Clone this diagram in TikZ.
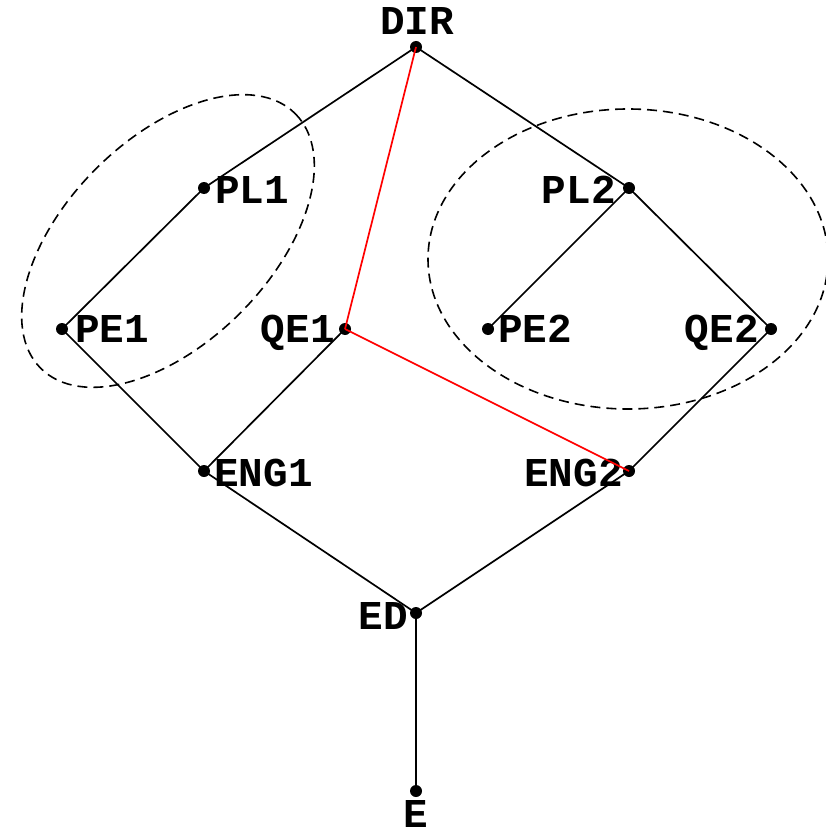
\documentclass[tikz,border=0pt]{standalone}
\usepackage{fontspec}
\setmainfont{Liberation Mono}
\usetikzlibrary{calc}
\tikzset{
  dot/.style={circle,fill=black,inner sep=0pt,minimum size=12pt},
  lbl/.style={inner sep=0pt,font=\fontsize{41}{41}\selectfont\bfseries},
  edge/.style={line width=1.7pt,black},
  rededge/.style={line width=1.7pt,red},
  grp/.style={line width=1.6pt,dash pattern=on 10pt off 6pt}
}
\begin{document}
\begin{tikzpicture}[x=1pt,y=-1pt]
\useasboundingbox (0,0) rectangle (825,832);
\draw[grp] (168,241) ellipse[x radius=180,y radius=102,rotate=45];
\draw[grp] (628,259) ellipse[x radius=200,y radius=150];
\node[dot] (DIR) at (416,47) {};
\node[dot] (PL1) at (204,188) {};
\node[dot] (PE1) at (62,329) {};
\node[dot] (QE1) at (345,329) {};
\node[dot] (PL2) at (629,188) {};
\node[dot] (PE2) at (488,329) {};
\node[dot] (QE2) at (771,329) {};
\node[dot] (ENG1) at (204,471) {};
\node[dot] (ENG2) at (629,471) {};
\node[dot] (ED) at (416,613) {};
\node[dot] (E) at (416,791) {};
\draw[edge] (DIR.center) -- (PL1.center);
\draw[edge] (DIR.center) -- (PL2.center);
\draw[edge] (PL1.center) -- (PE1.center);
\draw[edge] (PE1.center) -- (ENG1.center);
\draw[edge] (QE1.center) -- (ENG1.center);
\draw[edge] (PL2.center) -- (PE2.center);
\draw[edge] (PL2.center) -- (QE2.center);
\draw[edge] (QE2.center) -- (ENG2.center);
\draw[edge] (ENG1.center) -- (ED.center);
\draw[edge] (ENG2.center) -- (ED.center);
\draw[edge] (ED.center) -- (E.center);
\node[lbl,anchor=base] (DIRl) at ($(DIR)+(1,-12)$) {DIR};
\node[lbl,anchor=base west] (PL1l) at ($(PL1)+(11,15)$) {PL1};
\node[lbl,anchor=base west] (PE1l) at ($(PE1)+(13,13)$) {PE1};
\node[lbl,anchor=base east] (QE1l) at ($(QE1)+(-10,13)$) {QE1};
\node[lbl,anchor=base east] (PL2l) at ($(PL2)+(-13,15)$) {PL2};
\node[lbl,anchor=base west] (PE2l) at ($(PE2)+(10,13)$) {PE2};
\node[lbl,anchor=base east] (QE2l) at ($(QE2)+(-12,13)$) {QE2};
\node[lbl,anchor=base west] (ENG1l) at ($(ENG1)+(10,15)$) {ENG1};
\node[lbl,anchor=base east] (ENG2l) at ($(ENG2)+(-6,15)$) {ENG2};
\node[lbl,anchor=base east] (EDl) at ($(ED)+(-8,16)$) {ED};
\node[lbl,anchor=base] (El) at ($(E)+(0,36)$) {E};
\draw[rededge] (DIR.center) -- (QE1.center);
\draw[rededge] (QE1.center) -- (ENG2.center);
\end{tikzpicture}
\end{document}
